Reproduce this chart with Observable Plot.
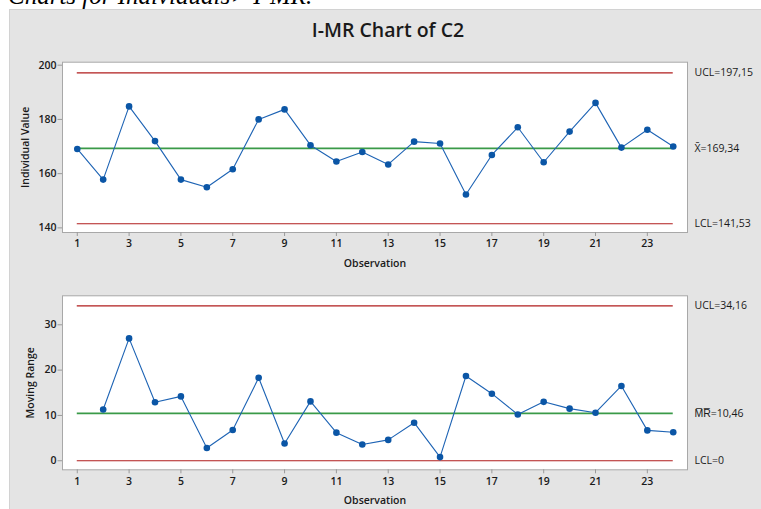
<!DOCTYPE html>
<html><head><meta charset="utf-8">
<script src="https://cdn.jsdelivr.net/npm/d3@7"></script>
<script src="https://cdn.jsdelivr.net/npm/@observablehq/plot@0.6"></script>
<style>
body{margin:0;width:761px;height:509px;overflow:hidden;background:#fff;position:relative;font-family:"Open Sans",sans-serif;}
#cap{position:absolute;left:8px;top:-17.4px;font:italic 25px/25px "Liberation Serif",serif;color:#000;white-space:nowrap;}
#panel{position:absolute;left:9px;top:9px;width:752px;height:500px;background:#e4e4e4;border-top:1px solid #d2d2d2;border-left:1px solid #d2d2d2;box-sizing:border-box;}
#title{position:absolute;left:12px;width:752px;top:20px;text-align:center;font:600 19.5px/19.5px "Open Sans",sans-serif;color:#1a1a1a;}
#p1,#p2{position:absolute;left:0;}
#p1{top:0;} #p2{top:275px;}
</style></head>
<body>
<div id="cap">Charts for Individuals&gt; I-MR.</div>
<div id="panel"></div>
<div id="title">I-MR Chart of C2</div>
<div id="p1"></div>
<div id="p2"></div>
<script>
const observations = [1,2,3,4,5,6,7,8,9,10,11,12,13,14,15,16,17,18,19,20,21,22,23,24];
const individualValues = [169.1,157.8,184.8,172.0,157.8,155.0,161.6,180.0,183.7,170.5,164.5,168.0,163.4,171.8,171.1,152.3,166.9,177.1,164.2,175.5,186.1,169.6,176.2,170.0];
const movingRanges = [null,11.3,27.0,12.9,14.2,2.8,6.8,18.3,3.8,13.1,6.2,3.6,4.6,8.4,0.8,18.7,14.8,10.2,13.0,11.5,10.6,16.5,6.7,6.3];
const iLimitValues = [197.15,169.34,141.53];
const iLimitLabels = ["UCL=197,15","X\u0304=169,34","LCL=141,53"];
const mrLimitValues = [34.16,10.46,0];
const mrLimitLabels = ["UCL=34,16","M\u0305R\u0305=10,46","LCL=0"];
const xTickValues = [1,3,5,7,9,11,13,15,17,19,21,23];
const iTickValues = [140,160,180,200];
const mrTickValues = [0,10,20,30];

const limitColors = ["#b01c1c","#3a9a48","#b01c1c"];
const limitWidths = [1.2,1.6,1.2];

function panel(opts){
  const data = observations.map((x,i)=>({x, y: opts.values[i]}));
  const pts = data.filter(d=>d.y!=null);
  return Plot.plot({
    width:761, height:opts.height,
    marginLeft:62, marginRight:74, marginTop:opts.marginTop, marginBottom:opts.marginBottom,
    style:{background:"transparent", fontFamily:"'Open Sans',sans-serif", fontSize:"10px", color:"#1a1a1a", overflow:"visible"},
    x:{domain:[0.43,24.55]},
    y:{domain:opts.yDomain},
    marks:[
      Plot.frame({fill:"white", stroke:"#a8a8a8"}),
      Plot.axisX(xTickValues,{tickSize:4, tickPadding:3.5, stroke:"#9a9a9a", fill:"#1a1a1a", fontWeight:600, fontSize:10.5,
        label:"Observation", labelAnchor:"center", labelArrow:"none", labelOffset:34, tickFormat:d=>String(d)}),
      Plot.axisY(opts.yTicks,{tickSize:4.5, tickPadding:1.5, stroke:"#9a9a9a", fill:"#1a1a1a", fontWeight:600, fontSize:10.5,
        label:opts.yLabel, labelAnchor:"center", labelArrow:"none", labelOffset:opts.labelOffset, tickFormat:d=>String(d)}),
      ...opts.limits.map((v,i)=>Plot.ruleY([v],{y:d=>d, x1:()=>observations[0], x2:()=>observations[observations.length-1], stroke:limitColors[i], strokeWidth:limitWidths[i]})),
      Plot.line(data,{x:"x", y:"y", stroke:"#1d63b4", strokeWidth:1.1}),
      Plot.dot(pts,{x:"x", y:"y", r:3.3, fill:"#0b56a6"}),
      Plot.text(opts.limits,{y:d=>d, text:(d,i)=>opts.labels[i], frameAnchor:"right", dx:7, textAnchor:"start", fontSize:10.5, fill:"#1a1a1a"})
    ]
  });
}

document.getElementById("p1").append(panel({
  values: individualValues, limits: iLimitValues, labels: iLimitLabels,
  yDomain:[138.3,201.1], yTicks: iTickValues, yLabel:"Individual Value",
  height:275, marginTop:61.7, marginBottom:43, labelOffset:41
}));
document.getElementById("p2").append(panel({
  values: movingRanges, limits: mrLimitValues, labels: mrLimitLabels,
  yDomain:[-2,36.4], yTicks: mrTickValues, yLabel:"Moving Range",
  height:234, marginTop:20.3, marginBottom:39.7, labelOffset:35.6
}));
</script>
</body></html>
